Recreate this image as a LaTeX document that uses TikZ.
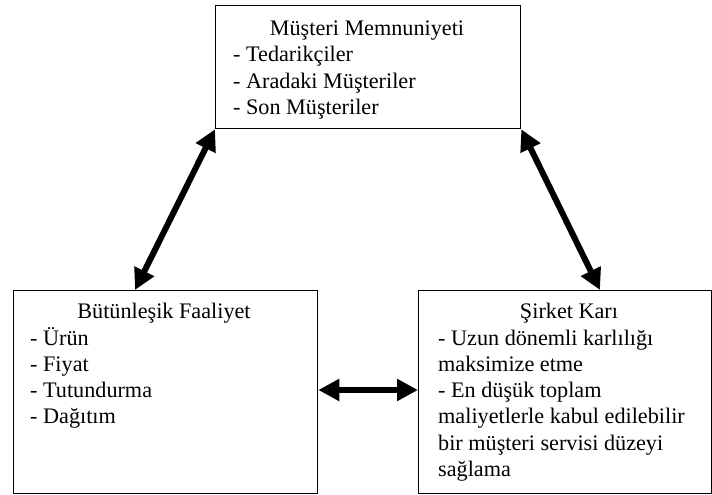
\documentclass[tikz,border=0pt]{standalone}
\usepackage{fontspec}
\setmainfont{Liberation Serif}
\usetikzlibrary{arrows.meta,calc}

\newcommand{\linesof}[1]{\begin{tabular}[t]{@{}l@{}}#1\end{tabular}}

\tikzset{
  panel/.style={draw, line width=1.3pt, rectangle, inner sep=0pt, anchor=north west},
  heading/.style={inner sep=0pt, anchor=base, font=\fontsize{22.2}{26.3}\selectfont},
  items/.style={inner sep=0pt, anchor=base west, font=\fontsize{22.2}{26.3}\selectfont},
  link/.style={line width=6pt, {Triangle[length=21pt,width=21pt]}-{Triangle[length=21pt,width=21pt]}}
}

\begin{document}
\begin{tikzpicture}[x=1pt,y=-1pt]
  \useasboundingbox (0,0) rectangle (712,495);

  % three boxes
  \node[panel, minimum width=305pt, minimum height=123pt] (sat) at (215,5) {};
  \node[panel, minimum width=304pt, minimum height=203pt] (ops) at (13,290) {};
  \node[panel, minimum width=293pt, minimum height=203pt] (prof) at (418,290) {};

  % customer satisfaction
  \node[heading] (satT) at (367,36) {Müşteri Memnuniyeti};
  \node[items] (satL) at (233,62) {\linesof{- Tedarikçiler\\- Aradaki Müşteriler\\- Son Müşteriler}};

  % integrated activity
  \node[heading] (opsT) at (164,318) {Bütünleşik Faaliyet};
  \node[items] (opsL) at (30,345) {\linesof{- Ürün\\- Fiyat\\- Tutundurma\\- Dağıtım}};

  % company profit
  \node[heading] (profT) at (569,318) {Şirket Karı};
  \node[items] (profL) at (438,345) {\linesof{- Uzun dönemli karlılığı\\maksimize etme\\- En düşük toplam\\maliyetlerle kabul edilebilir\\bir müşteri servisi düzeyi\\sağlama}};

  % connectors
  \draw[link] (sat.south west) -- ($(ops.north west)+(122,0)$);
  \draw[link] (sat.south east) -- ($(prof.north west)+(182,0)$);
  \draw[link] ($(ops.north east)+(0,100)$) -- ($(prof.north west)+(0,100)$);
\end{tikzpicture}
\end{document}
